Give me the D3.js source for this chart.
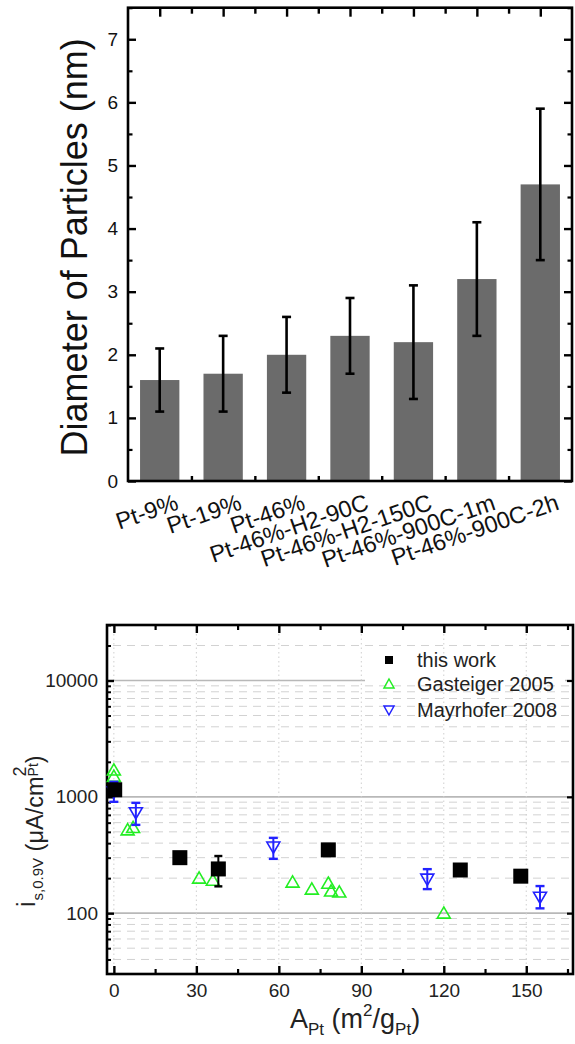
<!DOCTYPE html>
<html><head><meta charset="utf-8">
<script src="https://cdn.jsdelivr.net/npm/d3@7"></script>
<style>body{margin:0;background:#fff}svg{display:block;font-family:"Liberation Sans",Arial,sans-serif}</style>
</head><body>
<svg id="c" width="575" height="1044"></svg>
<script>
// ---------- Top chart data ----------
const barCats = ["Pt-9%","Pt-19%","Pt-46%","Pt-46%-H2-90C","Pt-46%-H2-150C","Pt-46%-900C-1m","Pt-46%-900C-2h"];
const barVals = [1.6,1.7,2.0,2.3,2.2,3.2,4.7];
const barLow  = [1.1,1.1,1.4,1.7,1.3,2.3,3.5];
const barHigh = [2.1,2.3,2.6,2.9,3.1,4.1,5.9];
const topYTicks = [0,1,2,3,4,5,6,7];
const topYMinor = [0.5,1.5,2.5,3.5,4.5,5.5,6.5,7.5];

// ---------- Bottom chart data ----------
const workX = [0.3,24,38,78,126,148];
const workY = [1150,300,240,350,235,208];
const workLow  = [null,null,170,null,null,null];
const workHigh = [null,null,310,null,null,null];
const gastX = [0,0,5,7,31,36,65,72,78,79,82,120];
const gastY = [1700,1500,520,545,200,192,185,161,181,155,152,100];
const mayX = [0,8,58,114,155];
const mayY = [1100,730,370,196,137];
const mayLow  = [906,574,293,161,110];
const mayHigh = [1346,888,444,239,171];
const botXTicks = [0,30,60,90,120,150];
const botXMinor = [15,45,75,105,135,165];
const botYTicks = [100,1000,10000];
const botYMinor = [40,50,60,70,80,90,200,300,400,500,600,700,800,900,2000,3000,4000,5000,6000,7000,8000,9000,20000,30000];
const legendNames = ["this work","Gasteiger 2005","Mayrhofer 2008"];

const svg = d3.select("#c");

// ================= TOP CHART =================
const T = {l:128, r:572, t:7.7, b:481};
const xBand = d3.scaleBand().domain(barCats).range([T.l,T.r]).paddingInner(0.38).paddingOuter(0.19);
const xIdx = d3.scaleLinear().domain([0,barCats.length]).range([T.l,T.r]);
const yTop = d3.scaleLinear().domain([0,7.5]).range([T.b,T.t]);

const gTop = svg.append("g");
gTop.selectAll("rect.bar").data(barVals).join("rect").attr("class","bar")
  .attr("x",(d,i)=>xBand(barCats[i])).attr("width",xBand.bandwidth())
  .attr("y",d=>yTop(d)).attr("height",d=>yTop(0)-yTop(d)).attr("fill","#6b6b6b");

// error bars
const eb = gTop.selectAll("g.eb").data(barVals).join("g").attr("class","eb")
  .attr("transform",(d,i)=>`translate(${xBand(barCats[i])+xBand.bandwidth()/2},0)`);
eb.append("line").attr("y1",(d,i)=>yTop(barLow[i])).attr("y2",(d,i)=>yTop(barHigh[i])).attr("stroke","#000").attr("stroke-width",2.6);
eb.append("line").attr("x1",-4.5).attr("x2",4.5).attr("y1",(d,i)=>yTop(barLow[i])).attr("y2",(d,i)=>yTop(barLow[i])).attr("stroke","#000").attr("stroke-width",2.6);
eb.append("line").attr("x1",-4.5).attr("x2",4.5).attr("y1",(d,i)=>yTop(barHigh[i])).attr("y2",(d,i)=>yTop(barHigh[i])).attr("stroke","#000").attr("stroke-width",2.6);

// axes
function styleAxis(g, sw){ g.select(".domain").remove(); g.selectAll("line").attr("stroke","#000").attr("stroke-width",sw); }
const centerIdx = barCats.map((c,i)=>i+0.5);
const boundIdx = d3.range(1,barCats.length);
gTop.append("g").attr("transform",`translate(${T.l},0)`)
  .call(d3.axisLeft(yTop).tickValues(topYTicks).tickSize(-8).tickPadding(10).tickFormat(d3.format("d")))
  .call(g=>{styleAxis(g,2.4); g.selectAll("text").attr("font-size",19).attr("fill","#111").attr("font-family","Liberation Sans, Arial, sans-serif");});
gTop.append("g").attr("transform",`translate(${T.l},0)`)
  .call(d3.axisLeft(yTop).tickValues(topYMinor).tickSize(-4.5).tickFormat(""))
  .call(g=>styleAxis(g,2.2));
gTop.append("g").attr("transform",`translate(${T.r},0)`)
  .call(d3.axisRight(yTop).tickValues(topYTicks).tickSize(-8).tickFormat(""))
  .call(g=>styleAxis(g,2.4));
gTop.append("g").attr("transform",`translate(${T.r},0)`)
  .call(d3.axisRight(yTop).tickValues(topYMinor).tickSize(-4.5).tickFormat(""))
  .call(g=>styleAxis(g,2.2));
gTop.append("g").attr("transform",`translate(0,${T.t})`)
  .call(d3.axisTop(xIdx).tickValues(centerIdx).tickSize(-9).tickFormat(""))
  .call(g=>styleAxis(g,2.4));
gTop.append("g").attr("transform",`translate(0,${T.t})`)
  .call(d3.axisTop(xIdx).tickValues(boundIdx).tickSize(-6).tickFormat(""))
  .call(g=>styleAxis(g,2.4));
gTop.append("g").attr("transform",`translate(0,${T.b})`)
  .call(d3.axisBottom(xIdx).tickValues(boundIdx).tickSize(-5).tickFormat(""))
  .call(g=>styleAxis(g,2.4));
gTop.append("rect").attr("x",T.l).attr("y",T.t).attr("width",T.r-T.l).attr("height",T.b-T.t)
  .attr("fill","none").attr("stroke","#000").attr("stroke-width",2.6);

// x labels
gTop.selectAll("text.xl").data(barCats).join("text").attr("class","xl")
  .attr("transform",d=>`translate(${xBand(d)+xBand.bandwidth()/2+20},509) rotate(-19)`)
  .attr("text-anchor","end").attr("font-size",23.5).attr("fill","#111").text(d=>d);

// y title
gTop.append("text").attr("transform",`translate(87,${(T.t+T.b)/2+3}) rotate(-90)`)
  .attr("text-anchor","middle").attr("font-size",36).attr("fill","#111").text("Diameter of Particles (nm)");

// ================= BOTTOM CHART =================
const B = {l:107, r:573, t:625, b:974};
const xB = d3.scaleLinear().domain([-2.5,167]).range([B.l,B.r]);
const yB = d3.scaleLog().domain([30,30000]).range([B.b,B.t]);
const gB = svg.append("g");

// major horizontal grid
gB.selectAll("line.gmaj").data(botYTicks).join("line").attr("class","gmaj")
  .attr("x1",B.l).attr("x2",B.r).attr("y1",d=>yB(d)).attr("y2",d=>yB(d))
  .attr("stroke","#b8b8b8").attr("stroke-width",1.6);
// legend background (interrupts major grid line)
gB.append("rect").attr("x",365).attr("y",672).attr("width",200).attr("height",18).attr("fill","#fff");
// minor horizontal grid
gB.selectAll("line.gmin").data(botYMinor).join("line").attr("class","gmin")
  .attr("x1",B.l+6).attr("x2",B.r).attr("y1",d=>yB(d)).attr("y2",d=>yB(d))
  .attr("stroke","#d2d2d2").attr("stroke-width",1).attr("stroke-dasharray","8,6");
// vertical dotted grid
gB.selectAll("line.gv").data(botXTicks).join("line").attr("class","gv")
  .attr("x1",d=>xB(d)).attr("x2",d=>xB(d)).attr("y1",B.t).attr("y2",B.b)
  .attr("stroke","#cfcfcf").attr("stroke-width",1).attr("stroke-dasharray","1.5,3");

// axes
gB.append("g").attr("transform",`translate(0,${B.b})`)
  .call(d3.axisBottom(xB).tickValues(botXTicks).tickSize(-8).tickPadding(10).tickFormat(d3.format("d")))
  .call(g=>{styleAxis(g,2.4); g.selectAll("text").attr("font-size",19).attr("fill","#222").attr("font-family","Liberation Sans, Arial, sans-serif");});
gB.append("g").attr("transform",`translate(0,${B.b})`)
  .call(d3.axisBottom(xB).tickValues(botXMinor).tickSize(-5).tickFormat(""))
  .call(g=>styleAxis(g,2.2));
gB.append("g").attr("transform",`translate(0,${B.t})`)
  .call(d3.axisTop(xB).tickValues(botXTicks).tickSize(-8).tickFormat(""))
  .call(g=>styleAxis(g,2.4));
gB.append("g").attr("transform",`translate(0,${B.t})`)
  .call(d3.axisTop(xB).tickValues(botXMinor).tickSize(-5).tickFormat(""))
  .call(g=>styleAxis(g,2.2));
gB.append("g").attr("transform",`translate(${B.l},0)`)
  .call(d3.axisLeft(yB).tickValues(botYTicks).tickSize(-7).tickPadding(9).tickFormat(d3.format("d")))
  .call(g=>{styleAxis(g,2.4); g.selectAll("text").attr("font-size",19).attr("fill","#222").attr("font-family","Liberation Sans, Arial, sans-serif");});
gB.append("g").attr("transform",`translate(${B.l},0)`)
  .call(d3.axisLeft(yB).tickValues(botYMinor).tickSize(-4).tickFormat(""))
  .call(g=>styleAxis(g,2));
gB.append("g").attr("transform",`translate(${B.r},0)`)
  .call(d3.axisRight(yB).tickValues(botYTicks).tickSize(-6).tickFormat(""))
  .call(g=>styleAxis(g,2.2));
gB.append("rect").attr("x",B.l).attr("y",B.t).attr("width",B.r-B.l).attr("height",B.b-B.t)
  .attr("fill","none").attr("stroke","#000").attr("stroke-width",2.6);

// data: Gasteiger (green up-triangles)
const upTri = "M0,-6.2L6.5,5L-6.5,5Z";
const downTri = "M0,6.2L6.5,-5L-6.5,-5Z";
const green = "#22ee22", blue = "#2222ff";
gB.selectAll("path.gast").data(gastX).join("path").attr("class","gast")
  .attr("transform",(d,i)=>`translate(${xB(d)},${yB(gastY[i])})`)
  .attr("d",upTri).attr("fill","none").attr("stroke",green).attr("stroke-width",1.6);

// Mayrhofer (blue down-triangles with error bars)
const mg = gB.selectAll("g.may").data(mayX).join("g").attr("class","may")
  .attr("transform",d=>`translate(${xB(d)},0)`);
mg.append("line").attr("y1",(d,i)=>yB(mayLow[i])).attr("y2",(d,i)=>yB(mayHigh[i])).attr("stroke",blue).attr("stroke-width",2);
mg.append("line").attr("x1",-4.5).attr("x2",4.5).attr("y1",(d,i)=>yB(mayLow[i])).attr("y2",(d,i)=>yB(mayLow[i])).attr("stroke",blue).attr("stroke-width",2.4);
mg.append("line").attr("x1",-4.5).attr("x2",4.5).attr("y1",(d,i)=>yB(mayHigh[i])).attr("y2",(d,i)=>yB(mayHigh[i])).attr("stroke",blue).attr("stroke-width",2.4);
mg.append("path").attr("transform",(d,i)=>`translate(0,${yB(mayY[i])})`).attr("d",downTri)
  .attr("fill","none").attr("stroke",blue).attr("stroke-width",1.6);

// this work (black squares)
const wg = gB.selectAll("g.work").data(workX).join("g").attr("class","work")
  .attr("transform",d=>`translate(${xB(d)},0)`);
wg.filter((d,i)=>workLow[i]!==null).each(function(d){
  const i = workX.indexOf(d); const s = d3.select(this);
  s.append("line").attr("y1",yB(workLow[i])).attr("y2",yB(workHigh[i])).attr("stroke","#000").attr("stroke-width",2);
  [workLow[i],workHigh[i]].forEach(v=>s.append("line").attr("x1",-4).attr("x2",4).attr("y1",yB(v)).attr("y2",yB(v)).attr("stroke","#000").attr("stroke-width",2.4));
});
wg.append("rect").attr("x",-7.5).attr("width",15).attr("y",(d,i)=>yB(workY[i])-7.5).attr("height",15).attr("fill","#000");

// legend
const lg = gB.append("g");
const legY = [660,684,710];
lg.append("rect").attr("x",385).attr("y",legY[0]-4).attr("width",8).attr("height",8).attr("fill","#000");
lg.append("path").attr("transform",`translate(389,${legY[1]})`).attr("d","M0,-5L5,4L-5,4Z").attr("fill","none").attr("stroke",green).attr("stroke-width",1.5);
lg.append("path").attr("transform",`translate(389,${legY[2]})`).attr("d","M0,5L5,-4L-5,-4Z").attr("fill","none").attr("stroke",blue).attr("stroke-width",1.5);
lg.selectAll("text").data(legendNames).join("text").attr("x",417).attr("y",(d,i)=>legY[i]+7)
  .attr("font-size",20).attr("fill","#222").text(d=>d);

// y title (bottom)
const yt = gB.append("text").attr("transform","translate(43,907) rotate(-90)").attr("fill","#222");
yt.append("tspan").attr("font-size",25).attr("dy",-8).text("i");
yt.append("tspan").attr("font-size",15).attr("dx",1).attr("dy",8).text("s,0.9V");
yt.append("tspan").attr("font-size",23.5).attr("dy",0).text(" (\u03BCA/cm");
yt.append("tspan").attr("font-size",18).attr("dy",-17).text("2");
yt.append("tspan").attr("font-size",14).attr("dx",-10).attr("dy",12).text("Pt");
yt.append("tspan").attr("font-size",23.5).attr("dy",5).text(")");

// x title (bottom)
const xt = gB.append("text").attr("x",290).attr("y",1028).attr("fill","#222");
xt.append("tspan").attr("font-size",27).text("A");
xt.append("tspan").attr("font-size",17).attr("dy",7).text("Pt");
xt.append("tspan").attr("font-size",27).attr("dy",-7).text(" (m");
xt.append("tspan").attr("font-size",17).attr("dy",-12).text("2");
xt.append("tspan").attr("font-size",27).attr("dy",12).text("/g");
xt.append("tspan").attr("font-size",17).attr("dy",7).text("Pt");
xt.append("tspan").attr("font-size",27).attr("dy",-7).text(")");
</script>
</body></html>
